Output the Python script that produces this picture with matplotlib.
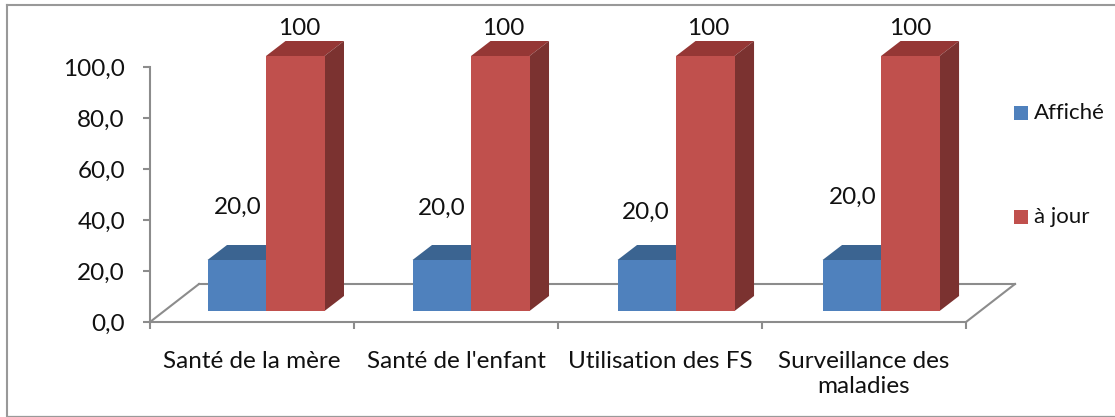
import matplotlib
matplotlib.use("Agg")
import matplotlib.pyplot as plt
from matplotlib.patches import Polygon, Rectangle
from matplotlib.lines import Line2D
from matplotlib.transforms import Affine2D

categories = ["Santé de la mère", "Santé de l'enfant", "Utilisation des FS", "Surveillance des\nmaladies"]
affiche = [20.0, 20.0, 20.0, 20.0]
a_jour = [100, 100, 100, 100]
series_names = ["Affiché", "à jour"]
y_ticks = [0, 20, 40, 60, 80, 100]

W, H = 1115, 417
plt.rcParams["font.family"] = ["Lato", "DejaVu Sans"]
fig = plt.figure(figsize=(W / 100, H / 100), dpi=100)
GRAY = "#8c8c8c"
TXT = "#111111"
FS = 17.5

def fx(p): return p / W
def fy(p): return 1 - p / H

# outer frame
for xs, ys, lw in [((7, 7), (5, 416), 1.5), ((7, W), (5, 5), 1.5), ((7, W), (416, 416), 0.9)]:
    fig.add_artist(Line2D([fx(x) for x in xs], [fy(y) for y in ys], color="#999999", lw=lw))

ax = fig.add_axes([fx(150), fy(322), (966 - 150) / W, (322 - 67) / H])
ax.set_xlim(0, 4)
ax.set_ylim(0, 100)
ax.patch.set_visible(False)
for s in ("top", "right"):
    ax.spines[s].set_visible(False)
for s in ("left", "bottom"):
    ax.spines[s].set_color(GRAY)
    ax.spines[s].set_linewidth(1.5)
ax.set_xticks(range(5))
ax.set_xticklabels([])
ax.set_yticks(y_ticks)
ax.set_yticklabels([f"{v:.1f}".replace(".", ",") for v in y_ticks], fontsize=FS, color=TXT)
ax.tick_params(axis="both", length=5, width=1.5, color=GRAY)
ax.tick_params(axis="y", pad=13)

def shifted(dx, dy):
    return ax.transData + Affine2D().translate(dx, dy)

# floor (depth offsets in pixels)
FDX, FDY = 49, 38
t_floor = shifted(FDX, FDY)
ax.plot([0, 4], [0, 0], color=GRAY, lw=1.5, transform=t_floor, clip_on=False, zorder=1)
base = ax.transData
for x0 in (0, 4):
    p0 = base.transform((x0, 0))
    ax.add_line(Line2D([p0[0], p0[0] + FDX], [p0[1], p0[1] + FDY], color=GRAY, lw=1.5,
                       transform=None, zorder=1, clip_on=False))

# bars
BW = 58.5 / 204
BDX, BDY = 14, 11      # bar front offset from the front floor edge
DX, DY = 19.5, 15      # bar depth
t_front = shifted(BDX, BDY)
bar_centers = [0.5, 1.505, 2.51, 3.515]

def bar3d(x, w, h, front, top, side, z):
    (x0, y0), (x1, y1) = t_front.transform([(x, 0), (x + w, h)])
    ax.add_patch(Polygon([(x0, y1), (x1, y1), (x1 + DX, y1 + DY), (x0 + DX, y1 + DY)],
                         closed=True, fc=top, ec="none", transform=None, zorder=z, clip_on=False))
    ax.add_patch(Polygon([(x1, y0), (x1 + DX, y0 + DY), (x1 + DX, y1 + DY), (x1, y1)],
                         closed=True, fc=side, ec="none", transform=None, zorder=z, clip_on=False))
    ax.add_patch(Polygon([(x0, y0), (x1, y0), (x1, y1), (x0, y1)],
                         closed=True, fc=front, ec="none", transform=None, zorder=z + 0.1, clip_on=False))

blue_label_x = [238, 442, 646, 853]
blue_label_y = [207, 208, 212, 197]
red_label_x = [299, 503, 708, 910]
for i, (a, b) in enumerate(zip(affiche, a_jour)):
    c = bar_centers[i]
    bar3d(c - BW, BW, a, "#4f81bd", "#3b6491", "#385d8a", 2)
    bar3d(c, BW, b, "#c0504d", "#953735", "#7b3230", 3)
    fig.text(fx(blue_label_x[i]), fy(blue_label_y[i]), f"{a:.1f}".replace(".", ","), fontsize=FS,
             color=TXT, ha="center", va="center", zorder=5)
    ax.text((red_label_x[i] - 150) / 204, b + 15, f"{b}", fontsize=FS, color=TXT,
            ha="center", va="center", zorder=5, clip_on=False)
    ax.text(i + 0.5, -11.2, categories[i], fontsize=FS, color=TXT, ha="center", va="top",
            linespacing=1.25, clip_on=False)

# legend
for (name, color, y) in zip(series_names, ["#4f81bd", "#c0504d"], [113, 217]):
    fig.add_artist(Rectangle((fx(1014), fy(y + 7)), 14 / W, 14 / H, transform=fig.transFigure,
                             fc=color, ec="none"))
    fig.text(fx(1034), fy(y), name, fontsize=16, color=TXT, ha="left", va="center")

fig.savefig("out.png", dpi=100, facecolor="white")
